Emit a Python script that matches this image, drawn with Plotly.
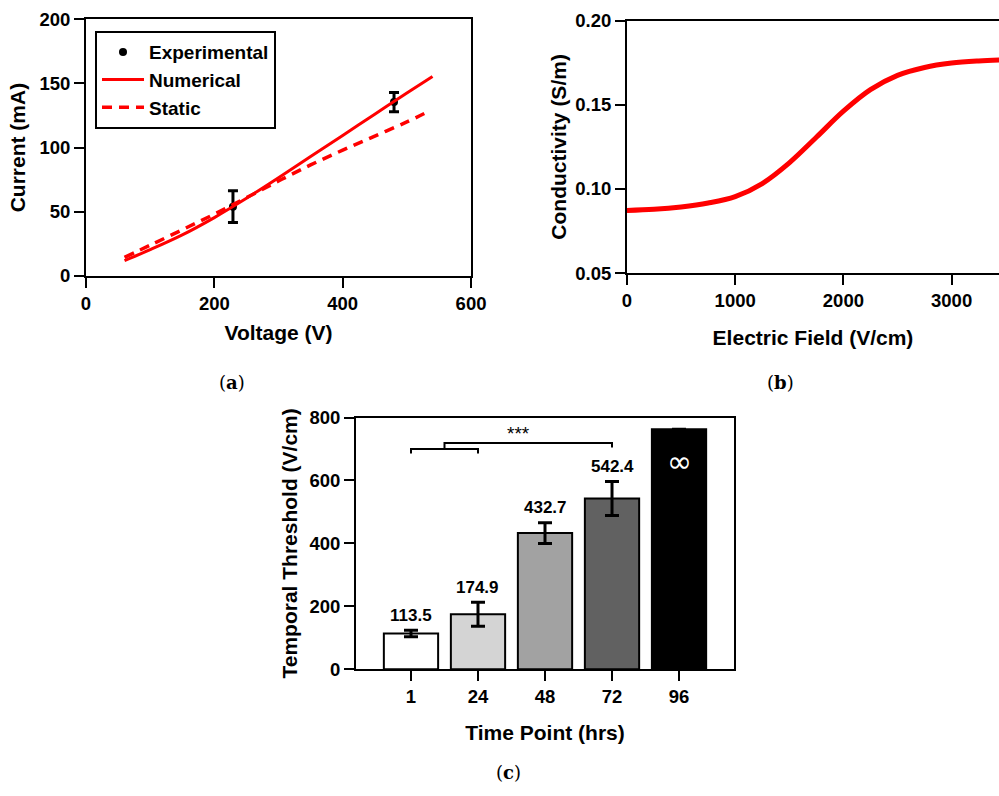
import plotly.graph_objects as go

# (a) current vs voltage
exp_voltage = [229, 480]
exp_current = [54, 135.5]
exp_err = [12.3, 7.5]
num_voltage = [60, 100, 150, 200, 250, 300, 350, 400, 450, 500, 540]
num_current = [12, 20.5, 32, 45.5, 60.5, 76.5, 93, 109.5, 126, 142.5, 155.5]
static_voltage = [60, 100, 150, 200, 250, 300, 350, 400, 450, 500, 535]
static_current = [14.5, 24, 36, 48.2, 61, 74, 86.5, 98, 109, 120, 128.5]

# (b) conductivity vs electric field
field = [0, 250, 500, 750, 1000, 1250, 1500, 1750, 2000, 2250, 2500, 2750, 3000, 3250, 3450]
conductivity = [0.0872, 0.0879, 0.0893, 0.0916, 0.0954, 0.1032, 0.1155, 0.1307,
                0.1462, 0.1590, 0.1675, 0.1722, 0.1748, 0.1761, 0.1767]

# (c) temporal threshold per time point
time_labels = ["1", "24", "48", "72", "96"]
threshold = [113.5, 174.9, 432.7, 542.4, 763]
threshold_err = [10.5, 38, 33, 54, 0]
value_labels = ["113.5", "174.9", "432.7", "542.4", ""]
bar_colors = ["#ffffff", "#d4d4d4", "#a2a2a2", "#616161", "#000000"]
sig_lower = (0, 1, 700, 686)      # x0, x1, bar height, tick end
sig_upper = (0.5, 3, 719, 705)
sig_text = "***"

RED = "#ff0000"
fig = go.Figure()

fig.add_trace(go.Scatter(x=exp_voltage, y=exp_current, mode="markers", name="Experimental",
                         marker=dict(color="black", size=8),
                         error_y=dict(type="data", array=exp_err, color="black", thickness=3, width=5),
                         xaxis="x", yaxis="y"))
fig.add_trace(go.Scatter(x=num_voltage, y=num_current, mode="lines", name="Numerical",
                         line=dict(color=RED, width=3, shape="spline"),
                         xaxis="x", yaxis="y"))
fig.add_trace(go.Scatter(x=static_voltage, y=static_current, mode="lines", name="Static",
                         line=dict(color=RED, width=3.5, dash="10px,7px", shape="spline"),
                         xaxis="x", yaxis="y"))

fig.add_trace(go.Scatter(x=field, y=conductivity, mode="lines", showlegend=False,
                         line=dict(color=RED, width=5, shape="spline"),
                         xaxis="x2", yaxis="y2"))

xs = list(range(len(time_labels)))
fig.add_trace(go.Bar(x=xs, y=threshold, width=0.81, showlegend=False,
                     marker=dict(color=bar_colors, line=dict(color="black", width=2)),
                     error_y=dict(type="data", array=threshold_err, color="black", thickness=3, width=7),
                     xaxis="x3", yaxis="y3"))

ax = dict(showline=True, linewidth=2, linecolor="black", mirror=True, ticks="outside",
          ticklen=10, tickwidth=2, tickcolor="black", showgrid=False, zeroline=False,
          tickfont=dict(size=18.5), automargin=False)
tf = dict(size=21)

fig.update_layout(
    width=999, height=796, margin=dict(l=0, r=0, t=0, b=0),
    paper_bgcolor="white", plot_bgcolor="white",
    font=dict(family="Liberation Sans, Arial, sans-serif", color="black", weight="bold"),
    xaxis=dict(ax, domain=[0.0861, 0.4715], range=[0, 600], tickvals=[0, 200, 400, 600],
               title=dict(text="Voltage (V)", font=tf, standoff=12), anchor="y"),
    yaxis=dict(ax, domain=[0.6533, 0.9758], range=[0, 200], tickvals=[0, 50, 100, 150, 200],
               title=dict(text="Current (mA)", font=tf, standoff=8), anchor="x"),
    xaxis2=dict(ax, domain=[0.6276, 1.0], range=[0, 3438], tickvals=[0, 1000, 2000, 3000],
                title=dict(text="Electric Field (V/cm)", font=tf, standoff=20), anchor="y2"),
    yaxis2=dict(ax, mirror=False, domain=[0.657, 0.974], range=[0.05, 0.20],
                tickvals=[0.05, 0.10, 0.15, 0.20], tickformat=".2f",
                title=dict(text="Conductivity (S/m)", font=tf, standoff=3), anchor="x2"),
    xaxis3=dict(ax, domain=[0.3564, 0.7347], range=[-0.82, 4.82], tickvals=xs, ticktext=time_labels,
                title=dict(text="Time Point (hrs)", font=tf, standoff=19), anchor="y3"),
    yaxis3=dict(ax, domain=[0.1592, 0.4755], range=[0, 800], tickvals=[0, 200, 400, 600, 800],
                title=dict(text="Temporal Threshold (V/cm)", font=tf, standoff=6), anchor="x3"),
    legend=dict(x=0.0951, y=0.961, xanchor="left", yanchor="top", bordercolor="black",
                borderwidth=2, bgcolor="white", font=dict(size=19), itemwidth=42,
                tracegroupgap=0),
)

# value labels above error bars
for i, lab in enumerate(value_labels):
    if lab:
        fig.add_annotation(x=xs[i], y=threshold[i] + threshold_err[i], xref="x3", yref="y3",
                           text=lab, showarrow=False, yanchor="middle", yshift=15,
                           font=dict(size=17))
fig.add_annotation(x=xs[-1], y=659, xref="x3", yref="y3", text="∞", showarrow=False,
                   font=dict(family="DejaVu Sans", size=30, color="white", weight="normal"))

# significance brackets
lx0, lx1, lh, lt = sig_lower
fig.add_shape(type="path", xref="x3", yref="y3",
              path=f"M {lx0},{lt} L {lx0},{lh} L {lx1},{lh} L {lx1},{lt}",
              line=dict(color="black", width=2))
ux0, ux1, uh, ut = sig_upper
fig.add_shape(type="path", xref="x3", yref="y3",
              path=f"M {ux0},{lh} L {ux0},{uh} L {ux1},{uh} L {ux1},{ut}",
              line=dict(color="black", width=2))
fig.add_annotation(x=1.6, y=749, xref="x3", yref="y3", text=sig_text, showarrow=False,
                   font=dict(size=19, weight="normal"))

# panel captions
cap = dict(family="DejaVu Serif", size=18, weight="normal")
for txt, cx, cy in (("a", 0.2322, 0.5201), ("b", 0.7808, 0.5201), ("c", 0.5095, 0.0289)):
    fig.add_annotation(x=cx, y=cy, xref="paper", yref="paper", text=f"(<b>{txt}</b>)",
                       xanchor="center", yanchor="middle", showarrow=False, font=cap)

fig.write_html("out.html", config={"displayModeBar": False},
               post_script="document.body.style.margin='0';")
